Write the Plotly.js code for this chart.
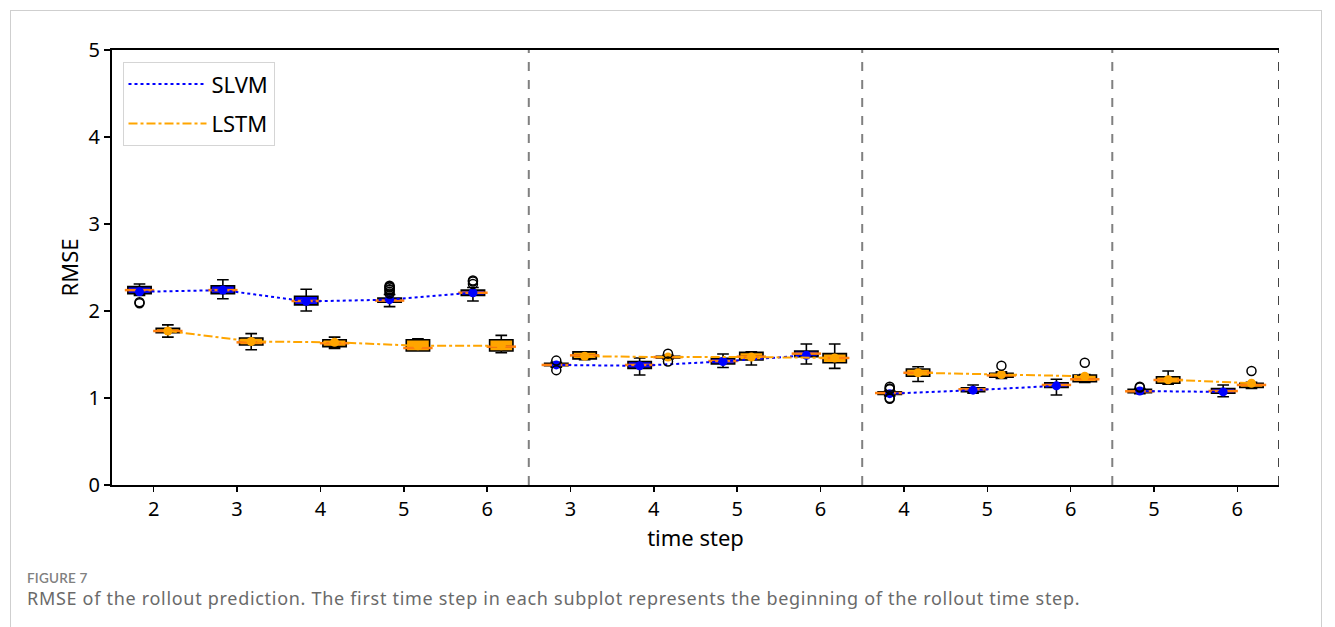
<!DOCTYPE html>
<html>
<head>
<meta charset="utf-8">
<script src="https://cdn.plot.ly/plotly-3.0.1.min.js"></script>
<style>
  body { margin:0; padding:0; background:#fff; }
  #wrap { position:relative; width:1335px; height:627px; overflow:hidden; }
  #card { position:absolute; left:10px; top:10px; width:1312px; height:640px; border:1px solid #cfcfcf; box-sizing:border-box; }
  #plot { position:absolute; left:0; top:0; width:1335px; height:627px; }
  #figlabel { position:absolute; left:27px; top:570px; font-family:Lato, "Noto Sans", sans-serif; font-size:13.5px; font-weight:600; color:#808080; letter-spacing:0.2px; }
  #caption { position:absolute; left:27px; top:586px; font-family:"Noto Sans", sans-serif; font-size:18px; letter-spacing:0.7px; color:#6a6a6a; white-space:nowrap; }
</style>
</head>
<body>
<div id="wrap">
  <div id="card"></div>
  <div id="plot"></div>
  <div id="figlabel">FIGURE 7</div>
  <div id="caption">RMSE of the rollout prediction. The first time step in each subplot represents the beginning of the rollout time step.</div>
</div>
<script>
// tick labels (time step) for the 14 box positions, 4 subplots
const tickLabels = [2,3,4,5,6, 3,4,5,6, 4,5,6, 5,6];
const groups = [[0,1,2,3,4],[5,6,7,8],[9,10,11],[12,13]];

// SLVM box statistics
const slvmQ1   = [2.20,2.20,2.07,2.10,2.18, 1.37,1.34,1.39,1.475, 1.04,1.072,1.12, 1.06,1.054];
const slvmMed  = [2.24,2.24,2.115,2.12,2.21, 1.38,1.38,1.425,1.51, 1.057,1.10,1.15, 1.077,1.08];
const slvmQ3   = [2.28,2.29,2.17,2.15,2.24, 1.40,1.42,1.456,1.54, 1.07,1.118,1.176, 1.10,1.11];
const slvmLo   = [2.18,2.14,2.00,2.05,2.115, 1.355,1.265,1.35,1.39, 1.025,1.054,1.034, 1.05,1.015];
const slvmHi   = [2.31,2.36,2.25,2.19,2.27, 1.41,1.46,1.505,1.62, 1.08,1.15,1.215, 1.11,1.15];
const slvmMean = [2.22,2.24,2.11,2.13,2.21, 1.38,1.37,1.42,1.49, 1.05,1.09,1.14, 1.08,1.07];
const slvmOutPos = [0,0, 3,3,3,3,3,3,3, 4,4,4, 5,5, 9,9,9,9,9, 12,12];
const slvmOutVal = [2.09,2.10, 2.20,2.22,2.24,2.25,2.27,2.28,2.29, 2.31,2.34,2.35, 1.43,1.32, 1.13,1.11,1.10,1.00,0.99, 1.12,1.13];

// LSTM box statistics
const lstmQ1   = [1.75,1.61,1.59,1.54,1.54, 1.45,1.46,1.437,1.405, 1.25,1.238,1.187, 1.17,1.12];
const lstmMed  = [1.77,1.64,1.63,1.575,1.59, 1.49,1.47,1.475,1.46, 1.29,1.26,1.215, 1.207,1.15];
const lstmQ3   = [1.80,1.69,1.67,1.67,1.67, 1.53,1.48,1.525,1.51, 1.333,1.284,1.264, 1.245,1.17];
const lstmLo   = [1.70,1.555,1.57,1.54,1.52, 1.44,1.45,1.38,1.34, 1.19,1.226,1.18, 1.16,1.11];
const lstmHi   = [1.84,1.74,1.70,1.68,1.72, 1.53,1.49,1.53,1.62, 1.36,1.30,1.27, 1.31,1.18];
const lstmMean = [1.77,1.65,1.64,1.60,1.60, 1.48,1.47,1.47,1.46, 1.29,1.27,1.25, 1.21,1.17];
const lstmOutPos = [6,6, 10, 11, 13];
const lstmOutVal = [1.51,1.42, 1.37, 1.405, 1.31];

const OFF = 0.17, BW = 0.28;
const BLUE = '#0000ff', ORANGE = '#ffa500', MEDC = '#ff7f0e';
const pos = tickLabels.map((_, i) => i);

function shifted(d) { return pos.map(p => p + d); }
function groupLine(vals, d) {
  const xs = [], ys = [];
  groups.forEach((g, gi) => {
    g.forEach(i => { xs.push(i + d); ys.push(vals[i]); });
    if (gi < groups.length - 1) { xs.push(null); ys.push(null); }
  });
  return {xs, ys};
}

const traces = [];
function addModel(name, color, dash, q1, med, q3, lo, hi, mean, outPos, outVal, d) {
  traces.push({
    type:'box', x: shifted(d), q1: q1, median: med, q3: q3,
    lowerfence: lo, upperfence: hi, width: BW, whiskerwidth: 0.5,
    fillcolor: color, line:{color:'#000', width:1.6}, boxpoints:false,
    showlegend:false, hoverinfo:'skip', name: name
  });
  traces.push({
    type:'scatter', mode:'markers', x: shifted(d), y: med, showlegend:false, hoverinfo:'skip',
    marker:{symbol:'line-ew-open', size:21, color:MEDC, line:{color:MEDC, width:2.5}}
  });
  const gl = groupLine(mean, d);
  traces.push({
    type:'scatter', mode:'lines', x: gl.xs, y: gl.ys, name: name, legendgroup: name,
    line:{color: color, dash: dash, width: 2}, connectgaps:false, hoverinfo:'skip'
  });
  traces.push({
    type:'scatter', mode:'markers', x: shifted(d), y: mean, showlegend:false, hoverinfo:'skip',
    marker:{symbol:'circle', size:9, color: color}
  });
  traces.push({
    type:'scatter', mode:'markers', x: outPos.map(p => p + d), y: outVal, showlegend:false, hoverinfo:'skip',
    marker:{symbol:'circle-open', size:9, color:'#000', line:{width:1.5, color:'#000'}}
  });
}
addModel('SLVM', BLUE, 'dot', slvmQ1, slvmMed, slvmQ3, slvmLo, slvmHi, slvmMean, slvmOutPos, slvmOutVal, -OFF);
addModel('LSTM', ORANGE, 'dashdot', lstmQ1, lstmMed, lstmQ3, lstmLo, lstmHi, lstmMean, lstmOutPos, lstmOutVal, OFF);

const sepX = [4.5, 8.5, 11.5, 13.5];
const shapes = sepX.map((x, i) => ({
  type:'line', xref:'x', yref:'paper', x0:x, x1:x, y0:0, y1:1,
  line:{color: i === 3 ? '#444' : '#808080', width:2, dash:'dash'}, layer:'above'
}));

const font = '"Noto Sans", "Open Sans", sans-serif';
const layout = {
  width:1335, height:627,
  margin:{l:112, r:56, t:50, b:142},
  paper_bgcolor:'rgba(0,0,0,0)', plot_bgcolor:'rgba(0,0,0,0)',
  boxmode:'overlay',
  font:{family: font, color:'#000'},
  showlegend:true,
  legend:{x:0.009, y:0.972, xanchor:'left', yanchor:'top', bgcolor:'#fff',
          bordercolor:'#d5d5d5', borderwidth:1, font:{size:22, family: font}, itemwidth:78,
          traceorder:'grouped', tracegroupgap:8},
  xaxis:{range:[-0.5, 13.5], tickmode:'array', tickvals: pos, ticktext: tickLabels.map(String),
         showgrid:false, zeroline:false, showline:true, linecolor:'#000', linewidth:2, mirror:true,
         ticks:'outside', ticklen:5, tickwidth:1.5, tickcolor:'#000', tickfont:{size:20},
         title:{text:'time step', font:{size:22}, standoff:0}},
  yaxis:{range:[0,5], tickvals:[0,1,2,3,4,5], showgrid:false, zeroline:false, showline:true,
         linecolor:'#000', linewidth:2, ticks:'outside', ticklen:6, tickwidth:1.5, tickcolor:'#000',
         tickfont:{size:20}, title:{text:'RMSE', font:{size:22}, standoff:4}},
  shapes: shapes
};
Plotly.newPlot('plot', traces, layout, {displayModeBar:false, staticPlot:true});
</script>
</body>
</html>
